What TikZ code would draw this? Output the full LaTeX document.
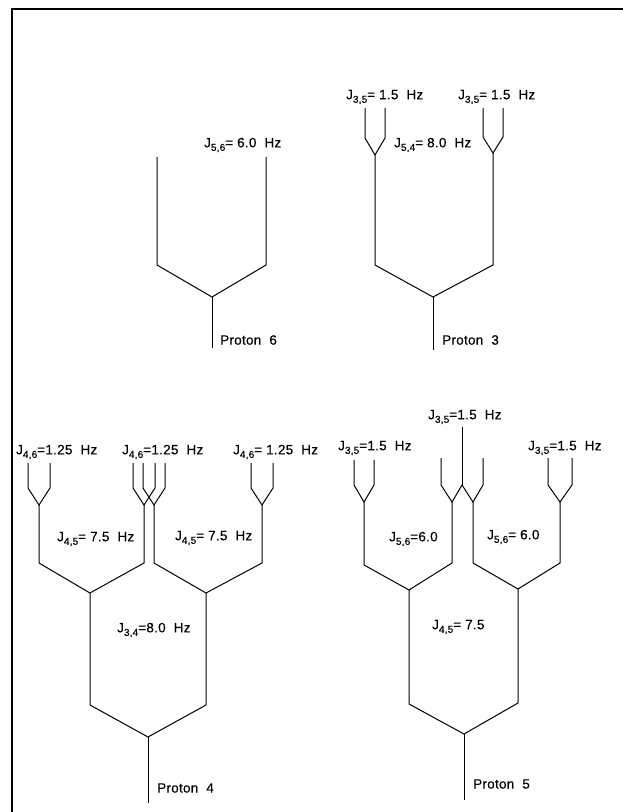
\documentclass[tikz,border=0pt]{standalone}
\usepackage{fontspec}
\newfontfamily\labfont[LetterSpace=2,FakeBold=0.4]{Liberation Sans}
\newcommand\sbs[1]{\raisebox{-0.5ex}{\fontsize{10}{10}\selectfont #1}}
\begin{document}
\begin{tikzpicture}[x=1pt,y=-1pt,
  ln/.style={line width=1pt, line join=miter},
  lab/.style={anchor=west, inner sep=0pt, font=\labfont\fontsize{13.5}{15}\selectfont}]
\useasboundingbox (0,0) rectangle (623,812);
% frame
\coordinate (fa) at (12,812); \coordinate (fb) at (12,9); \coordinate (fc) at (623,9);
\draw[line width=1.3pt] (fa) -- (fb) -- (fc);

% ---------- Proton 6 ----------
\coordinate (a6l) at (157,157); \coordinate (b6l) at (157,265);
\coordinate (a6r) at (266,157); \coordinate (b6r) at (266,265);
\coordinate (x6) at (212,297); \coordinate (s6) at (212,348);
\draw[ln] (a6l) -- (b6l) -- (x6) -- (b6r) -- (a6r);
\draw[ln] (x6) -- (s6);
\node[lab] (l6a) at (204,145) {J\sbs{5,6}= 6.0\ \ Hz};
\node[lab] (l6b) at (220,340) {Proton\ \ 6};

% ---------- Proton 3 ----------
\coordinate (p3a) at (365,108); \coordinate (p3b) at (385,108);
\coordinate (q3a) at (365,138); \coordinate (q3b) at (385,138);
\coordinate (y3l) at (375,155); \coordinate (z3l) at (375,265);
\coordinate (p3c) at (483,108); \coordinate (p3d) at (503,108);
\coordinate (q3c) at (483,137); \coordinate (q3d) at (503,137);
\coordinate (y3r) at (493,153); \coordinate (z3r) at (493,265);
\coordinate (x3) at (433,297); \coordinate (s3) at (433,350);
\draw[ln] (p3a) -- (q3a) -- (y3l) -- (q3b) -- (p3b);
\draw[ln] (p3c) -- (q3c) -- (y3r) -- (q3d) -- (p3d);
\draw[ln] (y3l) -- (z3l) -- (x3) -- (z3r) -- (y3r);
\draw[ln] (x3) -- (s3);
\node[lab] (l3a) at (346,97) {J\sbs{3,5}= 1.5\ \ Hz};
\node[lab] (l3b) at (458,97) {J\sbs{3,5}= 1.5\ \ Hz};
\node[lab] (l3c) at (394,145) {J\sbs{5,4}= 8.0\ \ Hz};
\node[lab] (l3d) at (442,340) {Proton\ \ 3};

% ---------- Proton 4 ----------
% fork A
\coordinate (pA1) at (28,463); \coordinate (qA1) at (28,488);
\coordinate (pA2) at (50,463); \coordinate (qA2) at (50,488);
\coordinate (yA) at (39,505); \coordinate (zA) at (39,563);
% fork B
\coordinate (pB1) at (133,463); \coordinate (qB1) at (133,488);
\coordinate (pB2) at (155,463); \coordinate (qB2) at (155,488);
\coordinate (yB) at (144,505); \coordinate (zB) at (144,563);
% fork C
\coordinate (pC1) at (143,463); \coordinate (qC1) at (143,488);
\coordinate (pC2) at (165,463); \coordinate (qC2) at (165,488);
\coordinate (yC) at (154,505); \coordinate (zC) at (154,563);
% fork D
\coordinate (pD1) at (251,463); \coordinate (qD1) at (251,488);
\coordinate (pD2) at (273,463); \coordinate (qD2) at (273,488);
\coordinate (yD) at (262,505); \coordinate (zD) at (262,563);
\draw[ln] (pA1) -- (qA1) -- (yA) -- (qA2) -- (pA2);
\draw[ln] (pB1) -- (qB1) -- (yB) -- (qB2) -- (pB2);
\draw[ln] (pC1) -- (qC1) -- (yC) -- (qC2) -- (pC2);
\draw[ln] (pD1) -- (qD1) -- (yD) -- (qD2) -- (pD2);
\coordinate (xAB) at (90,593); \coordinate (wAB) at (90,705);
\coordinate (xCD) at (206,593); \coordinate (wCD) at (206,705);
\coordinate (x4) at (148,737); \coordinate (s4) at (148,803);
\draw[ln] (yA) -- (zA) -- (xAB) -- (zB) -- (yB);
\draw[ln] (yC) -- (zC) -- (xCD) -- (zD) -- (yD);
\draw[ln] (xAB) -- (wAB) -- (x4) -- (wCD) -- (xCD);
\draw[ln] (x4) -- (s4);
\node[lab] (l4a) at (16,452) {J\sbs{4,6}=1.25\ \ Hz};
\node[lab] (l4b) at (122,452) {J\sbs{4,6}=1.25\ \ Hz};
\node[lab] (l4c) at (233,452) {J\sbs{4,6}= 1.25\ \ Hz};
\node[lab] (l4d) at (57,539) {J\sbs{4,5}= 7.5\ \ Hz};
\node[lab] (l4e) at (175,538) {J\sbs{4,5}= 7.5\ \ Hz};
\node[lab] (l4f) at (117,630) {J\sbs{3,4}=8.0\ \ Hz};
\node[lab] (l4g) at (157,788) {Proton\ \ 4};

% ---------- Proton 5 ----------
% fork E
\coordinate (pE1) at (354,460); \coordinate (qE1) at (354,485);
\coordinate (pE2) at (374,460); \coordinate (qE2) at (374,485);
\coordinate (yE) at (364,502); \coordinate (zE) at (364,565);
% forks F and G sharing the centre line
\coordinate (pF1) at (441,458); \coordinate (qF1) at (441,485);
\coordinate (pM) at (462,427); \coordinate (qM) at (462,485);
\coordinate (pG2) at (483,458); \coordinate (qG2) at (483,485);
\coordinate (yF) at (452,502); \coordinate (zF) at (452,563);
\coordinate (yG) at (473,502); \coordinate (zG) at (473,563);
% fork H
\coordinate (pH1) at (548,458); \coordinate (qH1) at (548,485);
\coordinate (pH2) at (572,458); \coordinate (qH2) at (572,485);
\coordinate (yH) at (560,502); \coordinate (zH) at (560,563);
\draw[ln] (pE1) -- (qE1) -- (yE) -- (qE2) -- (pE2);
\draw[ln] (pF1) -- (qF1) -- (yF) -- (qM) -- (yG) -- (qG2) -- (pG2);
\draw[ln] (pM) -- (qM);
\draw[ln] (pH1) -- (qH1) -- (yH) -- (qH2) -- (pH2);
\coordinate (xEF) at (409,590); \coordinate (wEF) at (409,704);
\coordinate (xGH) at (518,589); \coordinate (wGH) at (518,703);
\coordinate (x5) at (464,734); \coordinate (s5) at (464,800);
\draw[ln] (yE) -- (zE) -- (xEF) -- (zF) -- (yF);
\draw[ln] (yG) -- (zG) -- (xGH) -- (zH) -- (yH);
\draw[ln] (xEF) -- (wEF) -- (x5) -- (wGH) -- (xGH);
\draw[ln] (x5) -- (s5);
\node[lab] (l5a) at (338,448) {J\sbs{3,5}=1.5\ \ Hz};
\node[lab] (l5b) at (428,417) {J\sbs{3,5}=1.5\ \ Hz};
\node[lab] (l5c) at (528,448) {J\sbs{3,5}=1.5\ \ Hz};
\node[lab] (l5d) at (389,539) {J\sbs{5,6}=6.0};
\node[lab] (l5e) at (487,537) {J\sbs{5,6}= 6.0};
\node[lab] (l5f) at (432,627) {J\sbs{4,5}= 7.5};
\node[lab] (l5g) at (473,784) {Proton\ \ 5};
\end{tikzpicture}
\end{document}
